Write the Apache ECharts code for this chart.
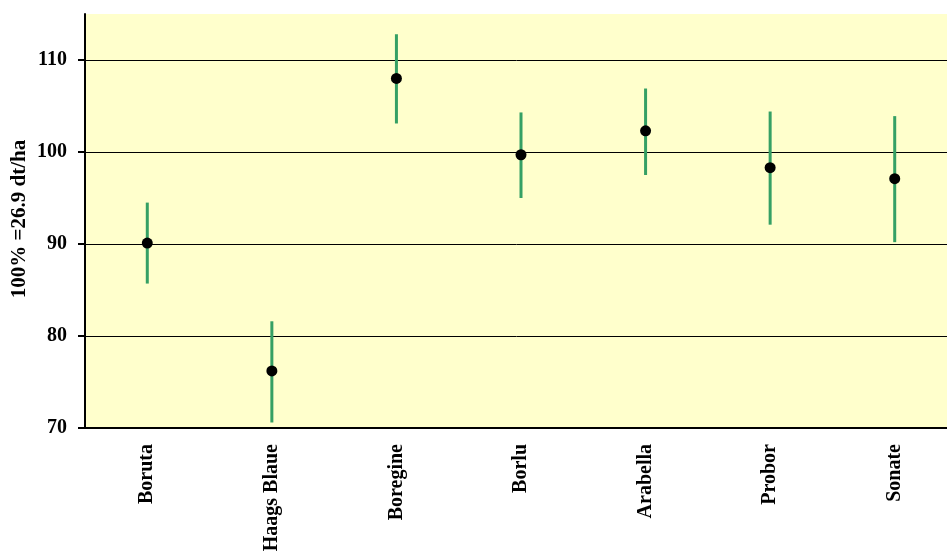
<!DOCTYPE html>
<html>
<head>
<meta charset="utf-8">
<script src="https://cdn.jsdelivr.net/npm/echarts@6/dist/echarts.min.js"></script>
<style>html,body{margin:0;padding:0;background:#fff;}#chart{width:947px;height:552px;}</style>
</head>
<body>
<div id="chart"></div>
<script>
const categories = ['Boruta', 'Haags Blaue', 'Boregine', 'Borlu', 'Arabella', 'Probor', 'Sonate'];
const means = [90.1, 76.2, 108.0, 99.7, 102.3, 98.3, 97.1];
const lows = [85.7, 70.6, 103.1, 95.0, 97.5, 92.1, 90.2];
const highs = [94.5, 81.6, 112.8, 104.3, 106.9, 104.4, 103.9];
const yTicks = [70, 80, 90, 100, 110];
const yTitle = '100% =26.9 dt/ha';

const font = '"Liberation Serif", "Times New Roman", serif';
const chart = echarts.init(document.getElementById('chart'), null, {renderer: 'canvas'});
const errData = categories.map((c, i) => [i, lows[i], highs[i]]);
chart.setOption({
  animation: false,
  backgroundColor: '#ffffff',
  grid: {left: 85, right: -10, top: 14, bottom: 124, backgroundColor: '#ffffcc', show: true, borderWidth: 0,
    containLabel: false, outerBoundsMode: 'none'},
  graphic: [{
    type: 'text',
    x: 20, y: 219,
    rotation: Math.PI / 2,
    style: {text: yTitle, fill: '#000', font: 'bold 21px ' + font, textAlign: 'center', textVerticalAlign: 'middle'}
  }],
  xAxis: {
    type: 'category',
    data: categories,
    axisLine: {lineStyle: {color: '#000', width: 2}},
    axisTick: {show: false},
    axisLabel: {rotate: 90, margin: 16, color: '#000', fontFamily: font, fontWeight: 'bold', fontSize: 20}
  },
  yAxis: {
    type: 'value',
    min: 70, max: 115, interval: 10,
    axisLine: {show: true, lineStyle: {color: '#000', width: 2}},
    axisTick: {show: true, length: 7, customValues: yTicks, lineStyle: {color: '#000', width: 2}},
    axisLabel: {customValues: yTicks, margin: 18, color: '#000', fontFamily: font, fontWeight: 'bold', fontSize: 20},
    splitLine: {show: true, lineStyle: {color: '#000', width: 1}}
  },
  series: [
    {
      type: 'custom',
      data: errData,
      renderItem: function (params, api) {
        const top = api.coord([api.value(0), api.value(2)]);
        const bot = api.coord([api.value(0), api.value(1)]);
        return {type: 'line', shape: {x1: top[0], y1: top[1], x2: bot[0], y2: bot[1]},
          style: {stroke: '#35a064', lineWidth: 3}};
      },
      z: 2
    },
    {
      type: 'scatter',
      data: means,
      symbol: 'circle',
      symbolSize: 11,
      itemStyle: {color: '#000', opacity: 1},
      z: 3
    }
  ]
});
</script>
</body>
</html>
